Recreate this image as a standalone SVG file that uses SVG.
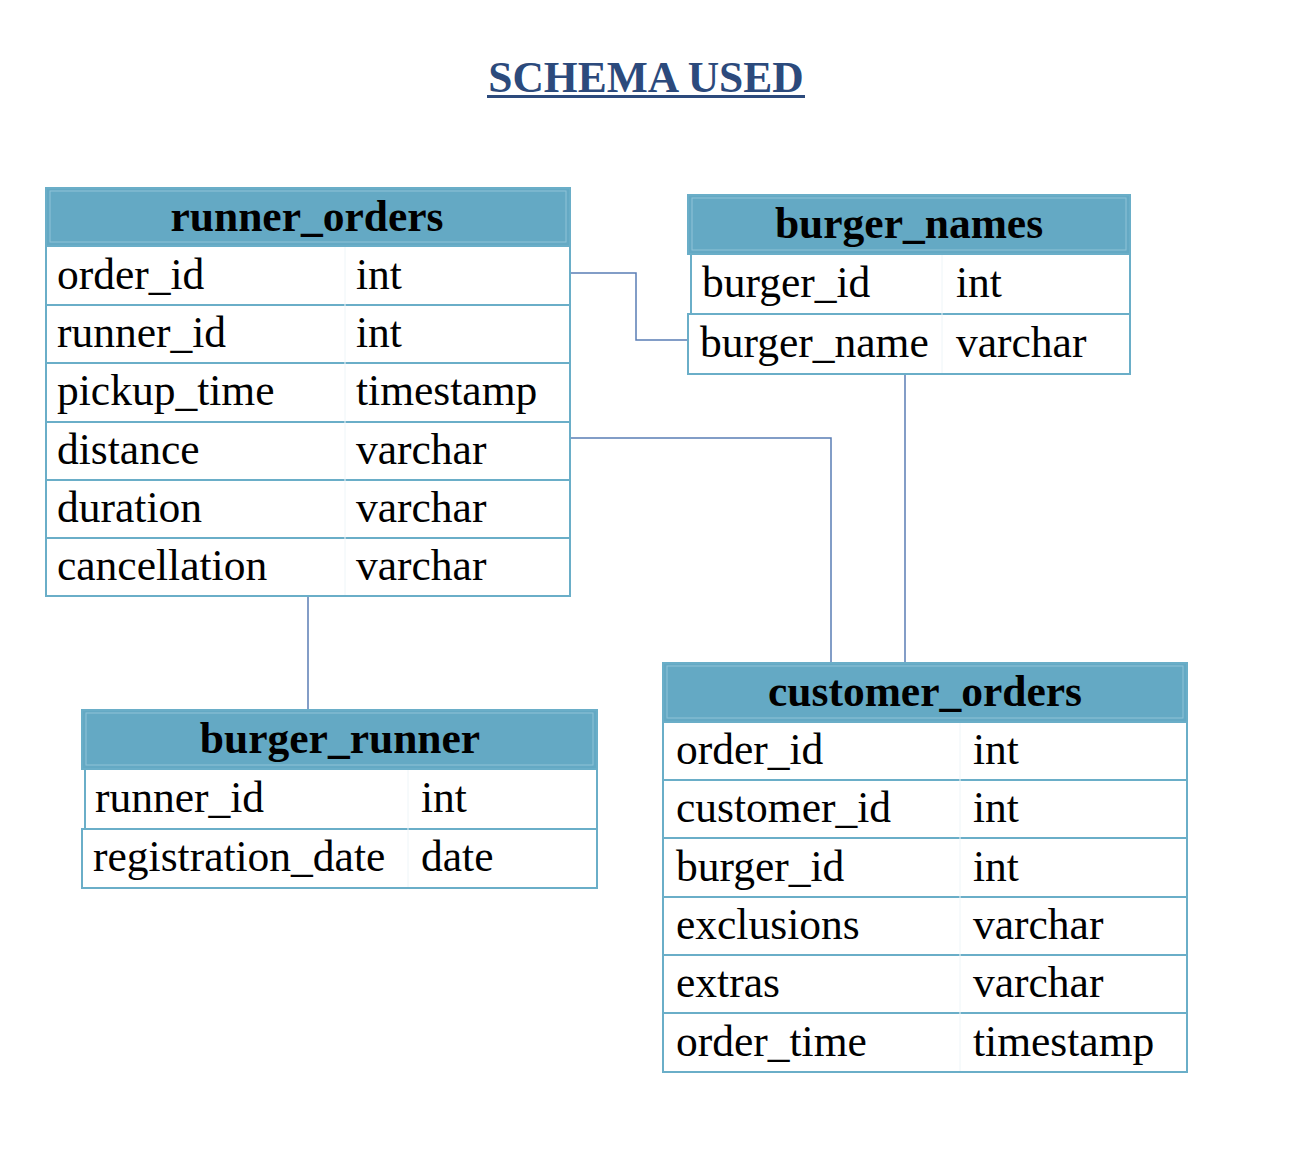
<svg xmlns="http://www.w3.org/2000/svg" width="1316" height="1166" viewBox="0 0 1316 1166">
<style>
  .hdr { fill: #64a9c4; stroke: #6aaec8; stroke-width: 2; }
  .hin { fill: none; stroke: #8fc3d7; stroke-width: 1; }
  .row { fill: #ffffff; stroke: #6aaec8; stroke-width: 2; }
  .div { stroke: #eef5f8; stroke-width: 1; }
  .ht { font-family: "Liberation Serif", "Times New Roman", serif; font-weight: bold; font-size: 43.5px; fill: #000; text-anchor: middle; }
  .t { font-family: "Liberation Serif", "Times New Roman", serif; font-size: 43.5px; fill: #000; }
  .conn { fill: none; stroke: #5a7db5; stroke-width: 1.5; }
</style>
<rect width="1316" height="1166" fill="#ffffff"/>
<g id="title">
  <text x="646" y="92" text-anchor="middle" font-family="Liberation Serif, Times New Roman, serif" font-weight="bold" font-size="43.5" fill="#2c4a7c">SCHEMA USED</text>
  <rect x="487" y="95" width="318" height="3" fill="#2c4a7c"/>
</g>
<g id="connectors">
  <polyline class="conn" points="567,273 636,273 636,340 688,340"/>
  <polyline class="conn" points="567,438 831,438 831,663"/>
  <line class="conn" x1="905" y1="372" x2="905" y2="663"/>
  <line class="conn" x1="308" y1="595" x2="308" y2="710"/>
</g>
<g id="runner_orders">
  <rect class="hdr" x="46" y="188" width="524" height="58"/>
  <rect class="hin" x="50" y="191" width="516" height="51"/>
  <text class="ht" x="307" y="231">runner_orders</text>
  <rect class="row" x="46" y="246" width="524" height="59"/>
  <rect class="row" x="46" y="305" width="524" height="58"/>
  <rect class="row" x="46" y="363" width="524" height="59"/>
  <rect class="row" x="46" y="422" width="524" height="58"/>
  <rect class="row" x="46" y="480" width="524" height="58"/>
  <rect class="row" x="46" y="538" width="524" height="58"/>
  <line class="div" x1="345" y1="247" x2="345" y2="595"/>
  <text class="t" x="57" y="289">order_id</text><text class="t" x="356" y="289">int</text>
  <text class="t" x="57" y="347">runner_id</text><text class="t" x="356" y="347">int</text>
  <text class="t" x="57" y="405">pickup_time</text><text class="t" x="356" y="405">timestamp</text>
  <text class="t" x="57" y="464">distance</text><text class="t" x="356" y="464">varchar</text>
  <text class="t" x="57" y="522">duration</text><text class="t" x="356" y="522">varchar</text>
  <text class="t" x="57" y="580">cancellation</text><text class="t" x="356" y="580">varchar</text>
</g>
<g id="burger_names">
  <rect class="hdr" x="688" y="195" width="442" height="59"/>
  <rect class="hin" x="692" y="198" width="434" height="52"/>
  <text class="ht" x="909" y="238">burger_names</text>
  <rect class="row" x="691" y="254" width="439" height="60"/>
  <rect class="row" x="688" y="314" width="442" height="60"/>
  <line class="div" x1="942" y1="255" x2="942" y2="373"/>
  <text class="t" x="702" y="297">burger_id</text><text class="t" x="956" y="297">int</text>
  <text class="t" x="700" y="357">burger_name</text><text class="t" x="956" y="357">varchar</text>
</g>
<g id="customer_orders">
  <rect class="hdr" x="663" y="663" width="524" height="59"/>
  <rect class="hin" x="667" y="666" width="516" height="52"/>
  <text class="ht" x="925" y="706">customer_orders</text>
  <rect class="row" x="663" y="722" width="524" height="58"/>
  <rect class="row" x="663" y="780" width="524" height="58"/>
  <rect class="row" x="663" y="838" width="524" height="59"/>
  <rect class="row" x="663" y="897" width="524" height="58"/>
  <rect class="row" x="663" y="955" width="524" height="58"/>
  <rect class="row" x="663" y="1013" width="524" height="59"/>
  <line class="div" x1="960" y1="723" x2="960" y2="1071"/>
  <text class="t" x="676" y="764">order_id</text><text class="t" x="973" y="764">int</text>
  <text class="t" x="676" y="822">customer_id</text><text class="t" x="973" y="822">int</text>
  <text class="t" x="676" y="881">burger_id</text><text class="t" x="973" y="881">int</text>
  <text class="t" x="676" y="939">exclusions</text><text class="t" x="973" y="939">varchar</text>
  <text class="t" x="676" y="997">extras</text><text class="t" x="973" y="997">varchar</text>
  <text class="t" x="676" y="1056">order_time</text><text class="t" x="973" y="1056">timestamp</text>
</g>
<g id="burger_runner">
  <rect class="hdr" x="82" y="710" width="515" height="59"/>
  <rect class="hin" x="86" y="713" width="507" height="52"/>
  <text class="ht" x="340" y="753">burger_runner</text>
  <rect class="row" x="85" y="769" width="512" height="60"/>
  <rect class="row" x="82" y="829" width="515" height="59"/>
  <line class="div" x1="408" y1="770" x2="408" y2="887"/>
  <text class="t" x="95" y="812">runner_id</text><text class="t" x="421" y="812">int</text>
  <text class="t" x="93" y="871">registration_date</text><text class="t" x="421" y="871">date</text>
</g>
</svg>
